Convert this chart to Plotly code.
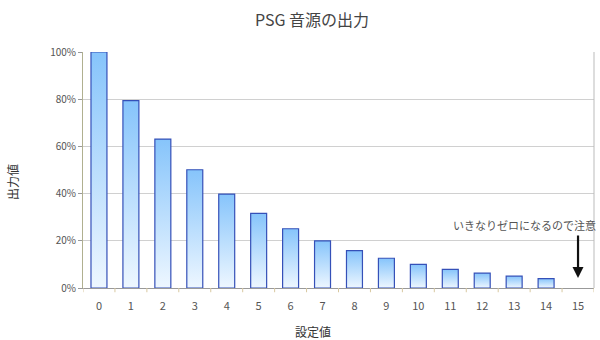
import plotly.graph_objects as go

categories = [str(i) for i in range(16)]
values = [1.0, 0.794, 0.631, 0.501, 0.398, 0.316, 0.251, 0.200, 0.158, 0.126, 0.100, 0.079, 0.063, 0.050, 0.040, 0.0]
y_ticks = [0, 0.2, 0.4, 0.6, 0.8, 1.0]
y_tick_labels = ["0%", "20%", "40%", "60%", "80%", "100%"]
title = "PSG 音源の出力"
x_title = "設定値"
y_title = "出力値"
note = "いきなりゼロになるので注意"

FONT = "Noto Sans CJK JP"
half = 0.25
W, H = 600, 340
L, R, T, B = 83, 6, 52, 52

fig = go.Figure()
for i, v in enumerate(values):
    if v <= 0:
        continue
    fig.add_trace(go.Scatter(
        x=[i - half, i + half, i + half, i - half, i - half],
        y=[0, 0, v, v, 0],
        mode="lines",
        fill="toself",
        fillgradient=dict(type="vertical", start=v, stop=0,
                          colorscale=[[0, "#86c4fb"], [1, "#eef7ff"]]),
        line=dict(color="#3550b8", width=1.2),
        hoverinfo="skip",
        showlegend=False,
    ))

fig.add_annotation(x=15, y=0.042, xref="x", yref="y", text="", showarrow=True,
                   arrowhead=2, arrowsize=1, arrowwidth=2.2, arrowcolor="#111",
                   ax=0, ay=-44)
fig.add_annotation(x=1, y=0.265, xref="paper", yref="y", text=note, showarrow=False,
                   xanchor="right", xshift=4, font=dict(family=FONT, size=11, color="#555"))

# axis titles placed as in the reference
fig.add_annotation(x=(313 - L) / (W - L - R), y=-(331 - (H - B)) / (H - T - B),
                   xref="paper", yref="paper", text=x_title, showarrow=False,
                   xanchor="center", yanchor="middle",
                   font=dict(family=FONT, size=12, color="#333"))
fig.add_annotation(x=-(L - 12) / (W - L - R), y=(H - B - 182) / (H - T - B),
                   xref="paper", yref="paper", text=y_title, showarrow=False, textangle=-90,
                   xanchor="center", yanchor="middle",
                   font=dict(family=FONT, size=12, color="#333"))

fig.update_layout(
    width=W, height=H,
    margin=dict(l=L, r=R, t=T, b=B),
    paper_bgcolor="white", plot_bgcolor="white",
    title=dict(text=title, x=0.52, xanchor="center", y=0.94, yanchor="middle",
               font=dict(family=FONT, size=16, color="#444")),
    font=dict(family=FONT, size=10, color="#555"),
    xaxis=dict(range=[-0.5, 15.5], tickmode="array",
               tickvals=list(range(16)), ticktext=categories,
               showgrid=False, zeroline=False, showline=True, linecolor="#999", linewidth=1,
               ticks="", ticklabelstandoff=8,
               tickfont=dict(family=FONT, size=11, color="#555")),
    yaxis=dict(range=[0, 1.0], tickmode="array", tickvals=y_ticks, ticktext=y_tick_labels,
               showgrid=True, gridcolor="#d0d0d0", gridwidth=1, zeroline=False,
               showline=True, linecolor="#b0b090", linewidth=1,
               ticks="outside", ticklen=4, tickcolor="#999",
               tickfont=dict(family=FONT, size=10, color="#555")),
)
fig.add_shape(type="line", xref="paper", yref="paper", x0=1, x1=1, y0=0, y1=1,
              line=dict(color="#bbb", width=1))
# category boundary ticks on x axis
for i in range(17):
    fig.add_shape(type="line", xref="x", yref="paper", x0=i - 0.5, x1=i - 0.5, y0=0, y1=-0.018,
                  line=dict(color="#d8c8a0", width=1))

fig.write_html("out.html")
